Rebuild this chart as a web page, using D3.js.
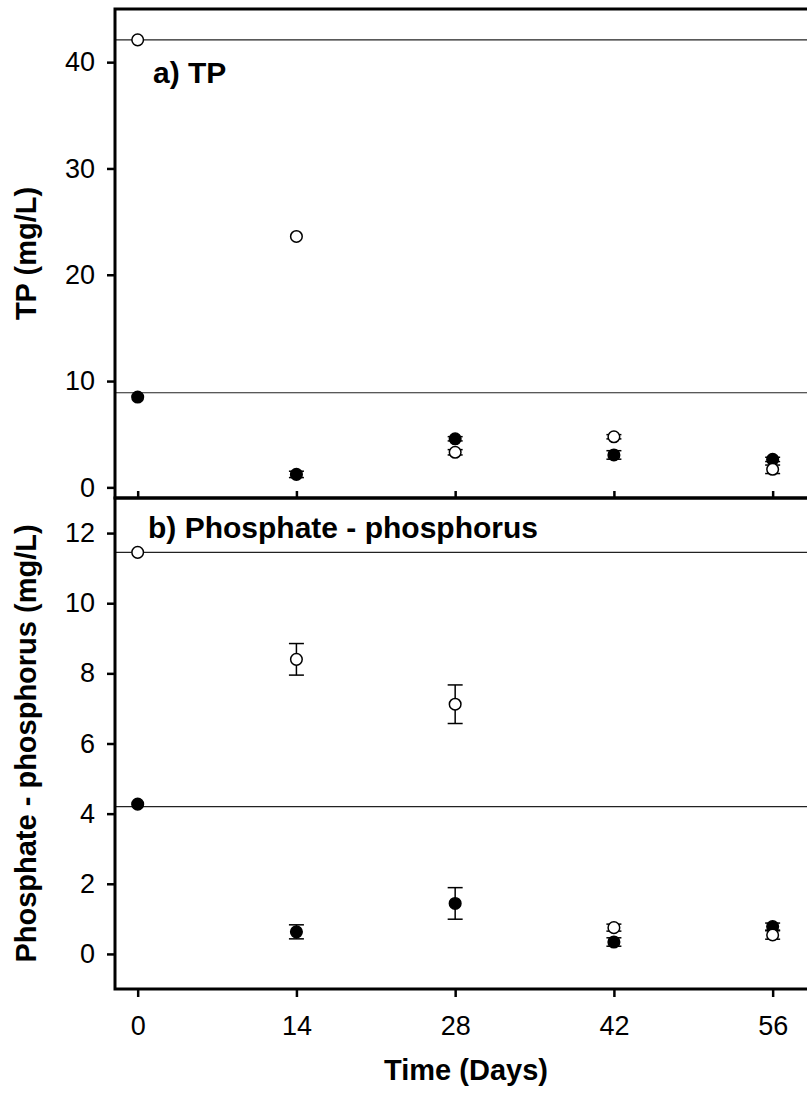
<!DOCTYPE html>
<html><head><meta charset="utf-8">
<script src="https://cdn.jsdelivr.net/npm/d3@7"></script>
<style>body{margin:0;background:#fff}svg{display:block}text{font-family:"Liberation Sans",Arial,sans-serif;fill:#000}</style>
</head><body><svg id="c" width="807" height="1097"></svg>
<script>
const days = [0, 14, 28, 42, 56];
const xTicks = [0, 14, 28, 42, 56];

const tpOpen = [42.1, 23.6, 3.3, 4.76, 1.7];
const tpOpenErr = [0, 0, 0.25, 0.2, 0.4];
const tpFilled = [8.5, 1.22, 4.57, 3.05, 2.63];
const tpFilledErr = [0, 0.3, 0.2, 0.4, 0.2];
const tpRef = [42.1, 8.9];
const tpTicks = [0, 10, 20, 30, 40];

const phOpen = [11.45, 8.40, 7.12, 0.75, 0.54];
const phOpenErr = [0, 0.45, 0.55, 0.1, 0.12];
const phFilled = [4.27, 0.63, 1.44, 0.34, 0.78];
const phFilledErr = [0, 0.2, 0.45, 0.12, 0.1];
const phRef = [11.45, 4.2];
const phTicks = [0, 2, 4, 6, 8, 10, 12];

const svg = d3.select("#c");
const x = d3.scaleLinear().domain([-2, 60]).range([115, 818]);
const FONT = "Liberation Sans, Arial, sans-serif";

function panel(opts) {
  const y = d3.scaleLinear().domain(opts.domain).range([opts.bottom, opts.top]);
  const g = svg.append("g");
  g.selectAll(".ref").data(opts.ref).join("line")
    .attr("x1", x.range()[0]).attr("x2", x.range()[1])
    .attr("y1", d => y(d)).attr("y2", d => y(d))
    .attr("stroke", "#222").attr("stroke-width", 1.2);
  g.append("rect").attr("x", x.range()[0]).attr("y", opts.top)
    .attr("width", x.range()[1] - x.range()[0]).attr("height", opts.bottom - opts.top)
    .attr("fill", "none").attr("stroke", "#000").attr("stroke-width", 3);
  const ya = g.append("g").attr("transform", `translate(${x.range()[0]},0)`)
    .call(d3.axisLeft(y).tickValues(opts.ticks).tickSize(8).tickPadding(12));
  ya.select(".domain").remove();
  ya.selectAll(".tick line").attr("stroke", "#000").attr("stroke-width", 2.5);
  ya.selectAll(".tick text").attr("font-size", 27).attr("font-family", FONT);
  const xa = g.append("g").attr("transform", `translate(0,${opts.bottom})`)
    .call(d3.axisBottom(x).tickValues(xTicks).tickSize(opts.xTickSize).tickPadding(opts.xTickSize > 0 ? 19 : 0));
  xa.select(".domain").remove();
  xa.selectAll(".tick line").attr("stroke", "#000").attr("stroke-width", 2.5);
  if (opts.showXLabels) {
    xa.selectAll(".tick text").attr("font-size", 27).attr("font-family", FONT);
  } else {
    xa.selectAll(".tick text").remove();
  }
  const series = [
    {vals: opts.filled, err: opts.filledErr, fill: "#000"},
    {vals: opts.open, err: opts.openErr, fill: "#fff"}
  ];
  series.forEach(s => {
    const pts = days.map((d, i) => ({d, v: s.vals[i], e: s.err[i]})).filter(p => p.e > 0);
    const eg = g.append("g").attr("stroke", "#000").attr("stroke-width", 1.5);
    eg.selectAll(".v").data(pts).join("line")
      .attr("x1", p => x(p.d)).attr("x2", p => x(p.d))
      .attr("y1", p => y(p.v - p.e)).attr("y2", p => y(p.v + p.e));
    eg.selectAll(".c1").data(pts).join("line")
      .attr("x1", p => x(p.d) - 7.5).attr("x2", p => x(p.d) + 7.5)
      .attr("y1", p => y(p.v + p.e)).attr("y2", p => y(p.v + p.e));
    eg.selectAll(".c2").data(pts).join("line")
      .attr("x1", p => x(p.d) - 7.5).attr("x2", p => x(p.d) + 7.5)
      .attr("y1", p => y(p.v - p.e)).attr("y2", p => y(p.v - p.e));
  });
  series.forEach(s => {
    g.append("g").selectAll("circle").data(days.map((d, i) => ({d, v: s.vals[i]}))).join("circle")
      .attr("cx", p => x(p.d)).attr("cy", p => y(p.v)).attr("r", 5.8)
      .attr("fill", s.fill).attr("stroke", "#000").attr("stroke-width", 1.5);
  });
  g.append("text").attr("x", opts.labelX).attr("y", opts.labelY)
    .attr("font-size", 30).attr("font-weight", "bold").text(opts.label);
  g.append("text").attr("transform", `translate(36,${(opts.top + opts.bottom) / 2}) rotate(-90)`)
    .attr("text-anchor", "middle").attr("font-size", 29).attr("font-weight", "bold").text(opts.title);
}

panel({domain: [-1, 45], top: 9, bottom: 498, ticks: tpTicks, ref: tpRef,
  open: tpOpen, openErr: tpOpenErr, filled: tpFilled, filledErr: tpFilledErr,
  xTickSize: -7, showXLabels: false, label: "a) TP", labelX: 153, labelY: 83, title: "TP (mg/L)"});

panel({domain: [-1, 13], top: 498, bottom: 989, ticks: phTicks, ref: phRef,
  open: phOpen, openErr: phOpenErr, filled: phFilled, filledErr: phFilledErr,
  xTickSize: 8, showXLabels: true, label: "b) Phosphate - phosphorus", labelX: 148, labelY: 538,
  title: "Phosphate - phosphorus (mg/L)"});

svg.append("text").attr("x", 466).attr("y", 1080).attr("text-anchor", "middle")
  .attr("font-size", 29).attr("font-weight", "bold").text("Time (Days)");
</script></body></html>
